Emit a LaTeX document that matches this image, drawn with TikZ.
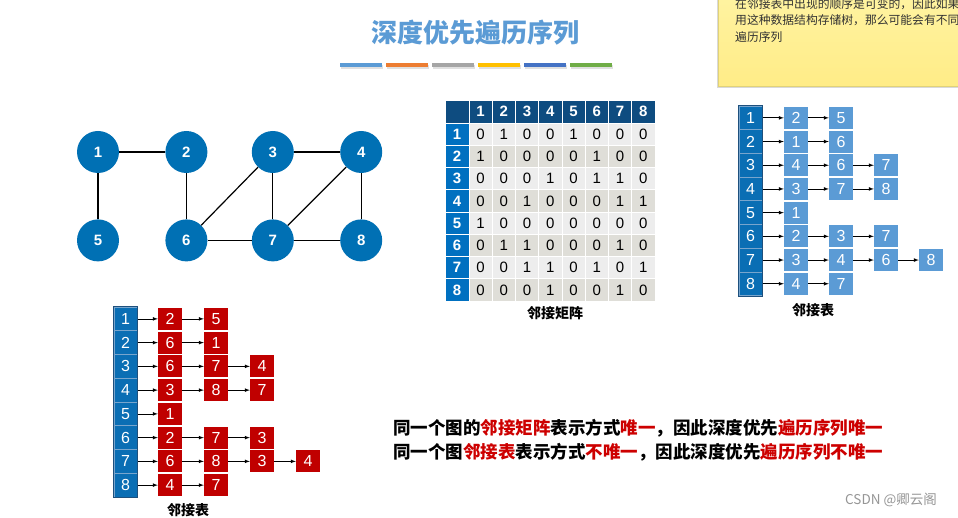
\documentclass[tikz,border=0pt]{standalone}
\usepackage{fontspec}
\setmainfont{Liberation Sans}
\newfontfamily\cjk{Noto Sans CJK SC}
\usetikzlibrary{positioning}

\definecolor{vblue}{RGB}{0,112,180}
\definecolor{titleblue}{RGB}{91,155,213}
\definecolor{barA}{RGB}{91,155,213}
\definecolor{barB}{RGB}{237,125,49}
\definecolor{barC}{RGB}{165,165,165}
\definecolor{barD}{RGB}{255,192,0}
\definecolor{barE}{RGB}{68,114,196}
\definecolor{barF}{RGB}{112,173,71}
\definecolor{navy}{RGB}{14,76,128}
\definecolor{sideblue}{RGB}{0,112,192}
\definecolor{cellA}{RGB}{237,237,237}
\definecolor{cellB}{RGB}{223,222,216}
\definecolor{headblue}{RGB}{10,110,180}
\definecolor{headline}{RGB}{120,165,205}
\definecolor{lblue}{RGB}{91,155,213}
\definecolor{lred}{RGB}{192,0,0}
\definecolor{tred}{RGB}{205,0,0}
\definecolor{noteA}{RGB}{255,243,160}
\definecolor{noteB}{RGB}{255,236,135}

\begin{document}
\begin{tikzpicture}[
    x=1pt, y=-1pt,
    node distance=46pt,
    vertex/.style={circle, fill=vblue, text=white, minimum size=42pt, inner sep=0pt, font=\bfseries\fontsize{15}{15}\selectfont},
    edge/.style={line width=1.2pt},
    mhead/.style={rectangle, fill=navy, draw=white, line width=0.6pt, text=white, minimum width=23.25pt, minimum height=23pt, inner sep=0pt, font=\bfseries\fontsize{15}{15}\selectfont},
    mside/.style={rectangle, fill=sideblue, draw=white, line width=0.6pt, text=white, minimum width=24pt, minimum height=22.25pt, inner sep=0pt, font=\bfseries\fontsize{15}{15}\selectfont},
    mcell/.style={rectangle, draw=white, line width=0.8pt, minimum width=23.25pt, minimum height=22.25pt, inner sep=0pt, font=\fontsize{15}{15}\selectfont},
    lhead/.style={rectangle, fill=headblue, draw=headline, line width=0.6pt, text=white, minimum width=23pt, minimum height=23.7pt, inner sep=0pt, font=\fontsize{16}{16}\selectfont},
    lbox/.style={rectangle, text=white, minimum width=24pt, minimum height=22pt, inner sep=0pt, font=\fontsize{16}{16}\selectfont},
    caption/.style={font=\cjk\bfseries\fontsize{14}{14}\selectfont},
    arrow/.style={-latex, line width=0.7pt}
]
    \useasboundingbox (0,0) rectangle (958,518);
    \fill[white] (0,0) rectangle (958,518);

    % title and colour bars
    \node[text=titleblue, font=\cjk\bfseries\fontsize{26}{26}\selectfont] (title) at (475,33) {深度优先遍历序列};
    \foreach \i/\col in {0/barA,1/barB,2/barC,3/barD,4/barE,5/barF} {
        \fill[black, opacity=0.12] ({340+46*\i+1},65) rectangle ({340+46*\i+43},69.5);
        \fill[\col] ({340+46*\i},63) rectangle ({340+46*\i+42},67);
    }

    % note in the corner
    \fill[black, opacity=0.15] (716.5,-2) rectangle (960,88);
    \shade[top color=noteA, bottom color=noteB, draw={rgb,255:red,225;green,210;blue,120}, line width=0.5pt] (718,-2) rectangle (960,86);
    \begin{scope}
        \clip (718,0) rectangle (958,86);
        \node[anchor=west, inner sep=0pt, text={rgb,255:red,50;green,50;blue,50}, font=\cjk\fontsize{11.8}{11.8}\selectfont] (note1) at (735,4.5) {在邻接表中出现的顺序是可变的，因此如果};
        \node[anchor=west, inner sep=0pt, text={rgb,255:red,50;green,50;blue,50}, font=\cjk\fontsize{11.8}{11.8}\selectfont] (note2) at (735,20.5) {用这种数据结构存储树，那么可能会有不同};
        \node[anchor=west, inner sep=0pt, text={rgb,255:red,50;green,50;blue,50}, font=\cjk\fontsize{11.8}{11.8}\selectfont] (note3) at (735,37) {遍历序列};
    \end{scope}

    % graph
    \node[vertex] (v1) at (98,152) {1};
    \node[vertex, right=of v1] (v2) {2};
    \node[vertex, right=44pt of v2] (v3) {3};
    \node[vertex, right=of v3] (v4) {4};
    \node[vertex, below=of v1] (v5) {5};
    \node[vertex, below=of v2] (v6) {6};
    \node[vertex, below=of v3] (v7) {7};
    \node[vertex, below=of v4] (v8) {8};

    \draw[edge] (v1) -- (v2);
    \draw[edge] (v1) -- (v5);
    \draw[edge] (v2) -- (v6);
    \draw[edge] (v3) -- (v4);
    \draw[edge] (v3) -- (v6);
    \draw[edge] (v3) -- (v7);
    \draw[edge] (v4) -- (v7);
    \draw[edge] (v4) -- (v8);
    \draw[edge] (v6) -- (v7);
    \draw[edge] (v7) -- (v8);

    % adjacency matrix
    \node[mhead, minimum width=24pt] (m00) at (457,111.5) {};
    \foreach \c in {1,...,8}
        \node[mhead] (m0\c) at ({469+23.25*(\c-0.5)},111.5) {\c};
    \foreach \r/\shade/\vals in {1/cellA/{0,1,0,0,1,0,0,0}, 2/cellB/{1,0,0,0,0,1,0,0},
                                3/cellA/{0,0,0,1,0,1,1,0}, 4/cellB/{0,0,1,0,0,0,1,1},
                                5/cellA/{1,0,0,0,0,0,0,0}, 6/cellB/{0,1,1,0,0,0,1,0},
                                7/cellA/{0,0,1,1,0,1,0,1}, 8/cellB/{0,0,0,1,0,0,1,0}} {
        \node[mside] (m\r0) at (457,{123+22.25*(\r-0.5)}) {\r};
        \foreach \v [count=\c] in \vals
            \node[mcell, fill=\shade] (m\r\c) at ({469+23.25*(\c-0.5)},{123+22.25*(\r-0.5)}) {\v};
    }
    \node[caption] (mlabel) at (555,313) {邻接矩阵};

    % adjacency list (right)
    \foreach \i/\list in {1/{2,5}, 2/{1,6}, 3/{4,6,7}, 4/{3,7,8},
                          5/{1}, 6/{2,3,7}, 7/{3,4,6,8}, 8/{4,7}} {
        \node[lhead] (R\i-0) at (750.5,{106+23.7*(\i-0.5)}) {\i};
        \foreach \v [count=\k, remember=\k as \p (initially 0)] in \list {
            \node[lbox, fill=lblue] (R\i-\k) at ({796+45*(\k-1)},{106+23.7*(\i-0.5)}) {\v};
            \draw[arrow] (R\i-\p) -- (R\i-\k);
        }
    }
    \draw[draw={rgb,255:red,30;green,80;blue,125}, line width=0.7pt] (R1-0.north west) rectangle (R8-0.south east);
    \node[caption] (rlabel) at (813,310) {邻接表};

    % adjacency list (left)
    \foreach \i/\list in {1/{2,5}, 2/{6,1}, 3/{6,7,4}, 4/{3,8,7},
                          5/{1}, 6/{2,7,3}, 7/{6,8,3,4}, 8/{4,7}} {
        \node[lhead] (L\i-0) at (125.5,{307+23.75*(\i-0.5)}) {\i};
        \foreach \v [count=\k, remember=\k as \p (initially 0)] in \list {
            \node[lbox, fill=lred] (L\i-\k) at ({170+46*(\k-1)},{307+23.75*(\i-0.5)}) {\v};
            \draw[arrow] (L\i-\p) -- (L\i-\k);
        }
    }
    \draw[draw={rgb,255:red,30;green,80;blue,125}, line width=0.7pt] (L1-0.north west) rectangle (L8-0.south east);
    \node[caption] (llabel) at (188,510) {邻接表};

    % conclusion
    \node[anchor=west, inner sep=0pt, font=\cjk\bfseries\fontsize{17.5}{17.5}\selectfont] (line1) at (393,428)
        {同一个图的\textcolor{tred}{邻接矩阵}表示方式\textcolor{tred}{唯一}，因此深度优先\textcolor{tred}{遍历序列唯一}};
    \node[anchor=west, inner sep=0pt, font=\cjk\bfseries\fontsize{17.5}{17.5}\selectfont] (line2) at (393,452)
        {同一个图\textcolor{tred}{邻接表}表示方式\textcolor{tred}{不唯一}，因此深度优先\textcolor{tred}{遍历序列不唯一}};

    % watermark
    \node[text={rgb,255:red,150;green,150;blue,150}, font=\cjk\fontsize{13.5}{13.5}\selectfont] (mark) at (891,500) {CSDN @卿云阁};
\end{tikzpicture}
\end{document}
